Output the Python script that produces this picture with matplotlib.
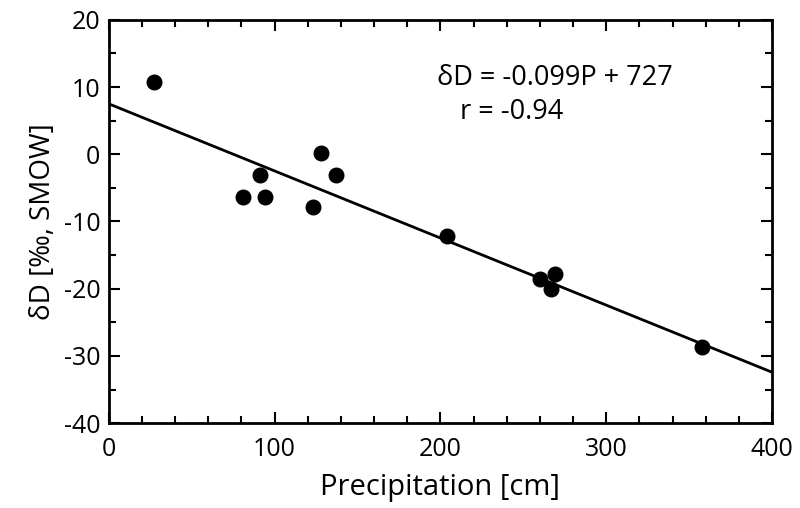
import matplotlib
matplotlib.use("Agg")
import matplotlib.pyplot as plt
import numpy as np
from matplotlib.ticker import MultipleLocator

plt.rcParams['font.family'] = ['Open Sans', 'DejaVu Sans']
plt.rcParams['axes.unicode_minus'] = False

# --- data ---
precip = [27, 81, 91, 94, 123, 128, 137, 204, 260, 269, 266.5, 358]
delta_d = [10.7, -6.4, -3.1, -6.4, -7.8, 0.2, -3.1, -12.1, -18.6, -17.8, -20.1, -28.6]

# regression line as drawn
fit_intercept = 7.5
fit_slope = -0.0998
fit_x = [0, 400]

eq_text = "δD = -0.099P + 727"
r_text = "r = -0.94"

fig = plt.figure(figsize=(8, 5.08), dpi=100)
ax = fig.add_axes([0.136, 0.167, 0.829, 0.794])

fx = np.array(fit_x)
ax.plot(fx, fit_intercept + fit_slope * fx, color='black', lw=2, zorder=2)
ax.scatter(precip, delta_d, s=110, color='black', zorder=3)

ax.set_xlim(0, 400)
ax.set_ylim(-40, 20)
ax.xaxis.set_major_locator(MultipleLocator(100))
ax.xaxis.set_minor_locator(MultipleLocator(20))
ax.yaxis.set_major_locator(MultipleLocator(10))
ax.yaxis.set_minor_locator(MultipleLocator(5))
ax.tick_params(which='both', direction='in', top=True, right=True, width=1.5,
               labelsize=18)
ax.tick_params(axis='x', pad=10)
ax.tick_params(axis='y', pad=6)
ax.tick_params(which='major', length=8)
ax.tick_params(which='minor', length=5)
for sp in ax.spines.values():
    sp.set_linewidth(2)

ax.set_xlabel("Precipitation [cm]", fontsize=21, labelpad=8)
ax.set_ylabel("δD [‰, SMOW]", fontsize=20, labelpad=5)

ax.text(198, 11.4, eq_text, fontsize=19.5, va='center', ha='left')
ax.text(212, 6.3, r_text, fontsize=19.5, va='center', ha='left')

fig.savefig("out.png", dpi=100)
